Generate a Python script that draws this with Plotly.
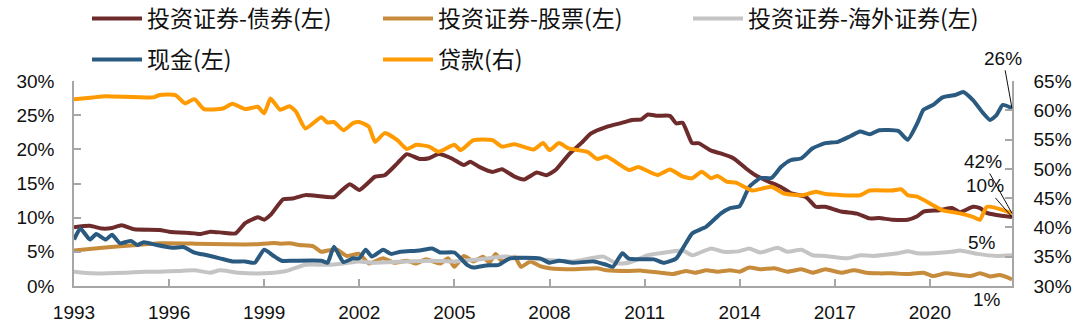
import plotly.graph_objects as go

# ---------------- data (decimal years; values in %) ----------------
bond_x = [1993.0, 1993.5, 1993.9, 1994.2, 1994.5, 1994.9, 1995.7, 1996.0, 1996.8, 1997.0,
          1997.3, 1997.7, 1998.1, 1998.4, 1998.8, 1999.0, 1999.2, 1999.6, 1999.9, 2000.3,
          2001.2, 2001.4, 2001.7, 2002.0, 2002.5, 2002.8, 2003.2, 2003.5, 2003.9, 2004.2,
          2004.5, 2004.9, 2005.3, 2005.5, 2005.8, 2006.2, 2006.5, 2006.9, 2007.2, 2007.6,
          2007.9, 2008.2, 2008.6, 2009.0, 2009.3, 2009.8, 2010.3, 2010.6, 2010.9, 2011.1,
          2011.4, 2011.8, 2012.0, 2012.2, 2012.5, 2012.7, 2013.1, 2013.4, 2013.8, 2014.2,
          2014.5, 2014.9, 2015.3, 2015.6, 2016.1, 2016.4, 2016.7, 2017.2, 2017.7, 2018.1,
          2018.4, 2018.8, 2019.3, 2019.6, 2019.8, 2020.3, 2020.7, 2020.95, 2021.36, 2021.58,
          2021.79, 2022.1, 2022.59]
bond_y = [8.6, 8.8, 8.4, 8.5, 8.9, 8.3, 8.2, 7.95, 7.7, 7.6,
          7.95, 7.8, 7.7, 9.2, 10.05, 9.7, 10.4, 12.7, 12.8, 13.3,
          13.0, 13.8, 14.9, 14.05, 16.0, 16.2, 17.95, 19.3, 18.6, 18.7,
          19.3, 18.7, 17.7, 18.2, 17.4, 16.7, 17.1, 16.0, 15.6, 16.6,
          16.2, 17.0, 19.2, 20.9, 22.3, 23.3, 23.9, 24.3, 24.4, 25.1,
          24.9, 24.9, 23.8, 23.9, 20.9, 20.9, 19.8, 19.4, 18.7, 17.2,
          16.2, 15.3, 14.5, 13.6, 13.0, 11.6, 11.6, 10.9, 10.6, 9.9,
          9.95, 9.7, 9.7, 10.2, 10.9, 11.1, 11.4, 10.8, 11.6, 11.4,
          10.7, 10.4, 10.1]

equity_x = [1993.0, 1993.9, 1995.0, 1995.7, 1996.8, 1997.8, 1998.7, 1999.3, 1999.5, 1999.8,
            2000.1, 2000.55, 2000.8, 2001.0, 2001.3, 2001.6, 2002.0, 2002.3, 2002.75, 2003.1,
            2003.5, 2003.8, 2004.1, 2004.55, 2004.8, 2005.0, 2005.3, 2005.6, 2005.9, 2006.1,
            2006.3, 2006.5, 2006.9, 2007.1, 2007.4, 2007.7, 2008.0, 2008.75, 2009.5, 2009.8,
            2010.5, 2010.9, 2011.5, 2011.9, 2012.3, 2012.6, 2012.95, 2013.3, 2013.7, 2014.0,
            2014.3, 2014.65, 2015.1, 2015.5, 2015.95, 2016.3, 2016.7, 2017.2, 2017.6, 2018.0,
            2018.4, 2018.8, 2019.3, 2019.8, 2020.1, 2020.5, 2020.95, 2021.28, 2021.58, 2021.9,
            2022.2, 2022.59]
equity_y = [5.2, 5.6, 6.0, 6.25, 6.2, 6.1, 6.1, 6.3, 6.2, 6.25,
            6.0, 5.8, 5.0, 5.2, 5.3, 4.4, 4.7, 3.3, 4.05, 3.4,
            3.7, 3.3, 3.9, 3.3, 4.05, 2.8, 4.4, 3.6, 4.3, 3.4,
            4.7, 3.6, 4.3, 2.8, 3.6, 2.9, 2.6, 2.45, 2.6, 2.3,
            2.2, 2.25, 1.95, 1.75, 2.2, 1.95, 2.3, 2.1, 2.3, 2.1,
            2.7, 2.45, 2.6, 2.1, 2.45, 1.95, 2.45, 1.95, 2.3, 1.95,
            1.85, 1.85, 1.75, 1.95, 1.45, 1.85, 1.6, 1.45, 1.85, 1.4,
            1.6, 0.98]

overseas_x = [1993.0, 1993.6, 1994.6, 1995.2, 1995.7, 1996.3, 1996.8, 1997.3, 1997.6, 1998.2,
              1999.0, 1999.7, 2000.3, 2001.0, 2001.5, 2002.0, 2002.4, 2003.5, 2004.3, 2005.0,
              2005.8, 2006.6, 2007.7, 2008.75, 2009.7, 2010.1, 2010.5, 2011.1, 2011.5, 2012.2,
              2012.5, 2013.1, 2013.5, 2014.0, 2014.3, 2014.65, 2015.2, 2015.5, 2015.95, 2016.3,
              2016.7, 2017.4, 2017.8, 2018.2, 2019.0, 2019.3, 2019.6, 2020.1, 2020.7, 2020.95,
              2021.5, 2022.1, 2022.59]
overseas_y = [2.1, 1.85, 1.95, 2.1, 2.1, 2.2, 2.3, 1.95, 2.3, 1.95,
              1.85, 2.2, 3.1, 3.1, 3.3, 3.6, 3.4, 3.6, 3.7, 3.6,
              3.9, 4.3, 3.9, 3.6, 4.3, 3.3, 3.4, 4.5, 4.8, 5.2,
              4.5, 5.5, 5.0, 5.1, 5.5, 4.9, 5.6, 5.0, 5.3, 4.5,
              4.4, 4.05, 4.5, 4.4, 4.8, 5.1, 4.8, 4.8, 5.0, 5.2,
              4.7, 4.4, 4.5]

cash_x = [1993.0, 1993.2, 1993.5, 1993.7, 1994.0, 1994.2, 1994.45, 1994.8, 1995.0, 1995.2,
          1995.6, 1996.1, 1996.45, 1996.8, 1997.2, 1997.6, 1998.0, 1998.4, 1998.7, 1999.0,
          1999.3, 1999.55, 1999.9, 2000.8, 2001.0, 2001.2, 2001.5, 2001.8, 2002.0, 2002.2,
          2002.4, 2002.75, 2003.0, 2003.3, 2003.9, 2004.3, 2004.55, 2005.0, 2005.4, 2005.6,
          2006.0, 2006.4, 2006.75, 2007.7, 2008.0, 2008.3, 2008.75, 2009.4, 2009.8, 2010.0,
          2010.3, 2010.5, 2010.9, 2011.3, 2011.6, 2012.0, 2012.3, 2012.5, 2012.95, 2013.4,
          2013.7, 2014.0, 2014.3, 2014.65, 2015.0, 2015.3, 2015.6, 2015.95, 2016.3, 2016.7,
          2017.1, 2017.5, 2017.8, 2018.1, 2018.4, 2019.0, 2019.3, 2019.6, 2019.8, 2020.1,
          2020.4, 2020.8, 2021.05, 2021.36, 2021.68, 2021.9, 2022.1, 2022.3, 2022.59]
cash_y = [6.8, 8.4, 6.8, 7.6, 6.8, 7.5, 6.25, 6.6, 6.0, 6.4,
          6.0, 5.6, 5.7, 4.9, 4.5, 4.05, 3.6, 3.6, 3.4, 5.3,
          4.4, 3.7, 3.7, 3.7, 3.4, 5.75, 3.5, 4.05, 4.05, 5.3,
          4.3, 5.3, 4.7, 5.0, 5.2, 5.5, 4.9, 4.9, 3.1, 2.7,
          3.0, 3.1, 4.05, 4.05, 3.4, 3.7, 3.4, 3.6, 3.1, 2.8,
          4.8, 4.0, 3.9, 3.9, 3.4, 4.05, 6.25, 7.7, 8.7, 10.6,
          11.4, 11.7, 14.5, 15.8, 15.8, 17.4, 18.4, 18.7, 20.15, 20.9,
          21.1, 21.95, 22.6, 22.2, 22.8, 22.7, 21.4, 23.8, 25.8, 26.5,
          27.6, 27.95, 28.4, 27.2, 25.3, 24.3, 25.0, 26.5, 26.0]

loan_x = [1993.0, 1993.6, 1994.0, 1995.5, 1995.7, 1996.2, 1996.5, 1996.8, 1997.1, 1997.7,
          1998.0, 1998.4, 1998.8, 1999.0, 1999.2, 1999.5, 1999.8, 2000.0, 2000.3, 2000.8,
          2001.0, 2001.2, 2001.5, 2001.8, 2002.0, 2002.3, 2002.5, 2002.8, 2003.2, 2003.5,
          2003.8, 2004.2, 2004.5, 2005.0, 2005.2, 2005.6, 2006.2, 2006.5, 2006.9, 2007.5,
          2007.8, 2008.0, 2008.3, 2008.6, 2009.2, 2009.5, 2009.8, 2010.5, 2010.8, 2011.4,
          2011.8, 2012.2, 2012.5, 2012.8, 2013.1, 2013.3, 2013.6, 2013.9, 2014.4, 2015.0,
          2015.4, 2016.0, 2016.4, 2016.7, 2017.8, 2018.1, 2018.8, 2019.1, 2019.3, 2019.6,
          2020.1, 2020.4, 2020.95, 2021.36, 2021.58, 2021.79, 2022.1, 2022.59]
loan_y = [61.9, 62.2, 62.4, 62.2, 62.6, 62.6, 61.2, 61.9, 60.2, 60.3,
          61.1, 60.2, 60.6, 59.5, 62.0, 60.1, 60.7, 59.8, 56.9, 58.8,
          57.9, 58.0, 56.6, 57.8, 58.0, 57.2, 54.6, 56.1, 54.9, 53.4,
          54.1, 53.8, 52.9, 54.1, 53.2, 54.9, 54.9, 53.8, 54.2, 53.3,
          54.4, 53.2, 54.4, 53.5, 52.9, 51.7, 52.1, 49.8, 50.3, 48.95,
          49.9, 48.7, 48.4, 49.5, 48.4, 48.8, 47.8, 47.6, 46.3, 46.95,
          45.8, 45.5, 46.1, 45.7, 45.5, 46.3, 46.3, 46.5, 45.5, 45.25,
          43.8, 42.9, 42.4, 41.8, 41.3, 43.5, 43.3, 42.4]

year_ticks = [1993, 1996, 1999, 2002, 2005, 2008, 2011, 2014, 2017, 2020]
left_ticks = [0, 5, 10, 15, 20, 25, 30]
right_ticks = [30, 35, 40, 45, 50, 55, 60, 65]

names = ["投资证券-债券(左)", "投资证券-股票(左)", "投资证券-海外证券(左)", "现金(左)", "贷款(右)"]
colors = ["#6E2B2B", "#C68B3B", "#C4C4C4", "#2A5A80", "#FF9A00"]

END_X = 2022.59

# ---------------- figure ----------------
fig = go.Figure()
series = [
    (bond_x, bond_y, "y", "legend", 226),
    (equity_x, equity_y, "y", "legend", 245),
    (overseas_x, overseas_y, "y", "legend", 250),
    (cash_x, cash_y, "y", "legend2", 226),
    (loan_x, loan_y, "y2", "legend2", 245),
]
for (xs, ys, ax, lg, lw), nm, col in zip(series, names, colors):
    fig.add_trace(go.Scatter(
        x=xs, y=ys, name=nm, mode="lines", yaxis=ax, legend=lg, legendwidth=lw,
        line=dict(color=col, width=4, shape="spline", smoothing=0.5),
        hoverinfo="skip",
    ))

axis_col = "#A6A6A6"
tick_font = dict(family="Liberation Sans, Arial, sans-serif", size=19, color="#111111")

fig.update_layout(
    width=1080, height=331,
    margin=dict(l=74, r=68, t=81, b=45, autoexpand=False),
    paper_bgcolor="white", plot_bgcolor="white",
    showlegend=True,
    xaxis=dict(
        range=[1993, END_X], tickmode="array", tickvals=year_ticks,
        ticktext=[str(v) for v in year_ticks],
        showgrid=False, zeroline=False, showline=True, linecolor=axis_col, linewidth=1.5,
        ticks="inside", ticklen=7, tickcolor=axis_col, tickwidth=1.5,
        tickfont=tick_font, ticklabelstandoff=8,
    ),
    yaxis=dict(
        range=[0, 30], tickmode="array", tickvals=left_ticks,
        ticktext=[f"{v}%" for v in left_ticks],
        showgrid=False, zeroline=False, showline=True, linecolor=axis_col, linewidth=1.5,
        ticks="inside", ticklen=7, tickcolor=axis_col, tickwidth=1.5,
        tickfont=tick_font, ticklabelstandoff=14,
    ),
    yaxis2=dict(
        range=[30, 65], tickmode="array", tickvals=right_ticks,
        ticktext=[f"{v}%" for v in right_ticks],
        overlaying="y", side="right",
        showgrid=False, zeroline=False, showline=True, linecolor=axis_col, linewidth=1.5,
        ticks="inside", ticklen=7, tickcolor=axis_col, tickwidth=1.5,
        tickfont=tick_font, ticklabelstandoff=16,
    ),
    legend=dict(
        orientation="h", x=0.01386, xanchor="left", y=1.41, yanchor="top",
        font=dict(family="Noto Sans CJK SC", size=23, color="#111111"),
        itemwidth=50, bgcolor="rgba(0,0,0,0)", borderwidth=0,
        entrywidthmode="pixels",
    ),
    legend2=dict(
        orientation="h", x=0.01386, xanchor="left", y=1.21, yanchor="top",
        font=dict(family="Noto Sans CJK SC", size=23, color="#111111"),
        itemwidth=50, bgcolor="rgba(0,0,0,0)", borderwidth=0,
        entrywidthmode="pixels",
    ),
)

ann_font = dict(family="Liberation Sans, Arial, sans-serif", size=19, color="#111111")
# labels with leader lines at the series end points
fig.add_annotation(x=END_X, y=cash_y[-1], xref="x", yref="y", text="26%", showarrow=True,
                   arrowhead=0, arrowwidth=1, arrowcolor="#111111", ax=-9, ay=-50, font=ann_font)
fig.add_annotation(x=END_X, y=loan_y[-1], xref="x", yref="y2", text="42%", showarrow=True,
                   arrowhead=0, arrowwidth=1, arrowcolor="#111111", ax=-29, ay=-52, font=ann_font)
fig.add_annotation(x=END_X, y=bond_y[-1], xref="x", yref="y", text="10%", showarrow=True,
                   arrowhead=0, arrowwidth=1, arrowcolor="#111111", ax=-27, ay=-31, font=ann_font)
fig.add_annotation(x=END_X, y=overseas_y[-1], xref="x", yref="y", text="5%", showarrow=False,
                   xshift=-30, yshift=13, font=ann_font)
fig.add_annotation(x=END_X, y=equity_y[-1], xref="x", yref="y", text="1%", showarrow=False,
                   xshift=-25, yshift=-20, font=ann_font)

fig.write_html("out.html")
